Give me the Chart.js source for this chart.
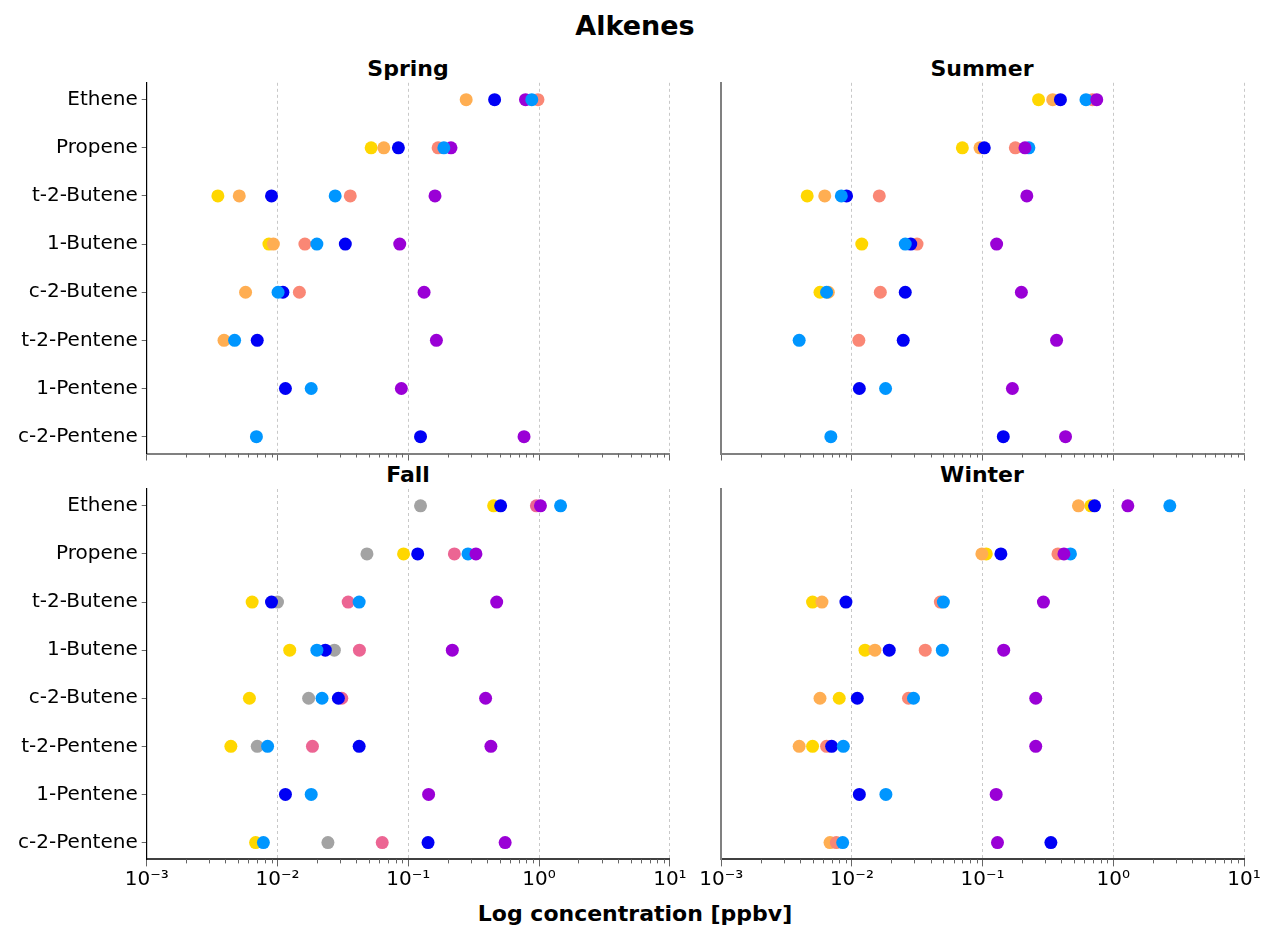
<!DOCTYPE html>
<html>
<head>
<style>
  html, body { margin: 0; width: 1262px; height: 926px; background: #fff; overflow: hidden; font-family: 'DejaVu Sans', sans-serif; }
  .txt { position: absolute; font-weight: bold; color: #000; transform: translate(-50%, -50%); white-space: nowrap; }
  canvas { position: absolute; }
</style>
<script src="https://cdn.jsdelivr.net/npm/chart.js"></script>
</head>
<body>
<div class="txt" style="left:635px;top:25px;font-size:27px">Alkenes</div>
<div class="txt" style="left:408px;top:68px;font-size:22px">Spring</div>
<div class="txt" style="left:982px;top:68px;font-size:22px">Summer</div>
<div class="txt" style="left:408px;top:474px;font-size:22px">Fall</div>
<div class="txt" style="left:982px;top:474px;font-size:22px">Winter</div>
<div class="txt" style="left:635px;top:913px;font-size:22px">Log concentration [ppbv]</div>

<canvas id="spring" width="700" height="392" style="left:0;top:72px"></canvas>
<canvas id="summer" width="562" height="392" style="left:700px;top:72px"></canvas>
<canvas id="fall" width="700" height="422" style="left:0;top:478px"></canvas>
<canvas id="winter" width="562" height="422" style="left:700px;top:478px"></canvas>

<script>
const compounds = ['Ethene', 'Propene', 't-2-Butene', '1-Butene', 'c-2-Butene', 't-2-Pentene', '1-Pentene', 'c-2-Pentene'];
const xTickValues = [0.001, 0.01, 0.1, 1, 10];
const xTickLabels = ['10⁻³', '10⁻²', '10⁻¹', '10⁰', '10¹'];

// values in ppbv, one per compound (null = not measured)
const springGold      = [null, 0.052, 0.0035, 0.0086, null, null, null, null];
const springOrange    = [0.277, 0.065, 0.0051, 0.0093, 0.0057, 0.0039, null, null];
const springSalmon    = [0.98, 0.169, 0.036, 0.0162, 0.0147, null, null, null];
const springBlue      = [0.457, 0.084, 0.0090, 0.033, 0.011, 0.0070, 0.0115, 0.124];
const springLightBlue = [0.879, 0.187, 0.0276, 0.020, 0.0101, 0.0047, 0.0181, 0.0069];
const springPurple    = [0.787, 0.212, 0.160, 0.086, 0.132, 0.164, 0.0885, 0.767];

const summerGold      = [0.268, 0.070, 0.00455, 0.0119, 0.0057, null, null, null];
const summerOrange    = [0.344, 0.0955, 0.0062, null, 0.0066, null, null, null];
const summerSalmon    = [0.693, 0.178, 0.0162, 0.0315, 0.0165, 0.0113, null, null];
const summerBlue      = [0.394, 0.103, 0.0091, 0.0282, 0.0256, 0.0247, 0.0114, 0.144];
const summerLightBlue = [0.618, 0.226, 0.0083, 0.0256, 0.0064, 0.00395, 0.0181, 0.0069];
const summerPurple    = [0.747, 0.211, 0.218, 0.128, 0.198, 0.368, 0.169, 0.431];

const fallGray        = [0.124, 0.0483, 0.0100, 0.0272, 0.0173, 0.0070, null, 0.0243];
const fallGold        = [0.449, 0.092, 0.0064, 0.0124, 0.0061, 0.0044, null, 0.0068];
const fallPink        = [0.953, 0.225, 0.0347, 0.0423, 0.031, 0.0185, null, 0.0632];
const fallBlue        = [0.508, 0.118, 0.0090, 0.0232, 0.0292, 0.0421, 0.0115, 0.1416];
const fallLightBlue   = [1.459, 0.286, 0.0421, 0.020, 0.0219, 0.0084, 0.0181, 0.0078];
const fallPurple      = [1.024, 0.329, 0.474, 0.217, 0.390, 0.428, 0.143, 0.550];

const winterGold      = [0.673, 0.1067, 0.0050, 0.0126, 0.0080, 0.0050, null, null];
const winterOrange    = [0.541, 0.0987, 0.0059, 0.0150, 0.0057, 0.00395, null, 0.0068];
const winterSalmon    = [null, 0.377, 0.0475, 0.0364, 0.0271, 0.0064, null, 0.0076];
const winterBlue      = [0.719, 0.138, 0.0090, 0.0193, 0.0110, 0.0070, 0.0114, 0.333];
const winterLightBlue = [2.706, 0.470, 0.0501, 0.0492, 0.0296, 0.0086, 0.0182, 0.0085];
const winterPurple    = [1.292, 0.419, 0.292, 0.145, 0.255, 0.255, 0.127, 0.130];

const colors = {
  gold: '#FFD700', orange: '#FFAE52', salmon: '#FA8775', pink: '#EC6593',
  gray: '#A3A3A3', blue: '#0000F5', lightBlue: '#0096FF', purple: '#9A00D6'
};

// minor tick positions of the log axis
const xMinor = [];
for (let e = -3; e < 1; e++) for (let m = 2; m < 10; m++) xMinor.push(m * Math.pow(10, e));

const minorTicks = {
  id: 'minorTicks',
  afterDraw(chart) {
    const sx = chart.scales.x, ctx = chart.ctx;
    ctx.save();
    ctx.strokeStyle = '#666';
    ctx.lineWidth = 1;
    for (const v of xMinor) {
      const px = Math.round(sx.getPixelForValue(v)) + 0.5;
      ctx.beginPath();
      ctx.moveTo(px, sx.top);
      ctx.lineTo(px, sx.top + 4);
      ctx.stroke();
    }
    ctx.restore();
  }
};

function makeSet(values, color) {
  const pts = [];
  values.forEach((v, i) => { if (v !== null) pts.push({x: v, y: i}); });
  return {
    data: pts,
    backgroundColor: color,
    borderWidth: 0,
    pointRadius: 6.5,
    pointHoverRadius: 6.5,
    clip: false
  };
}

// sets listed top-most first (Chart.js draws the first dataset last)
function makeChart(id, sets, opt) {
  new Chart(document.getElementById(id), {
    type: 'scatter',
    data: { datasets: sets },
    plugins: [minorTicks],
    options: {
      responsive: false,
      animation: false,
      layout: { padding: { top: opt.padTop, right: opt.padRight, left: 0, bottom: 0 } },
      plugins: { legend: { display: false }, tooltip: { enabled: false } },
      scales: {
        x: {
          type: 'logarithmic',
          min: 0.001,
          max: 10,
          afterBuildTicks: s => { s.ticks = xTickValues.map(v => ({ value: v })); },
          afterFit: s => { s.height = opt.xHeight; s.paddingLeft = 0; s.paddingRight = 0; },
          ticks: {
            display: opt.xLabels,
            autoSkip: false,
            maxRotation: 0,
            padding: 1,
            color: '#000',
            font: { family: 'DejaVu Sans', size: 20 },
            callback: v => xTickLabels[xTickValues.indexOf(v)] || ''
          },
          grid: {
            color: c => (c.index === 0 ? 'rgba(0,0,0,0)' : '#c8c8c8'),
            lineWidth: 1,
            tickLength: 7,
            tickColor: '#666',
            tickBorderDash: []
          },
          border: { color: opt.bottomColor, width: 2, dash: [3, 3] }
        },
        y: {
          type: 'linear',
          reverse: true,
          min: -0.35,
          max: 7.35,
          afterBuildTicks: s => { s.ticks = compounds.map((c, i) => ({ value: i })); },
          afterFit: s => { s.width = opt.yWidth; s.paddingTop = 0; s.paddingBottom = 0; },
          ticks: {
            display: opt.yLabels,
            padding: 4,
            color: '#000',
            font: { family: 'DejaVu Sans', size: 20 },
            callback: v => compounds[v]
          },
          grid: {
            drawOnChartArea: false,
            drawTicks: opt.yLabels,
            tickLength: 5,
            tickColor: '#666'
          },
          border: { color: opt.leftColor, width: opt.leftWidth }
        }
      }
    }
  });
}

makeChart('spring', [
  makeSet(springLightBlue, colors.lightBlue),
  makeSet(springPurple, colors.purple),
  makeSet(springBlue, colors.blue),
  makeSet(springSalmon, colors.salmon),
  makeSet(springOrange, colors.orange),
  makeSet(springGold, colors.gold)
], { padTop: 10.8, padRight: 30.1, xHeight: 10.5, yWidth: 146.7, xLabels: false, yLabels: true,
     bottomColor: '#808080', leftColor: '#000', leftWidth: 1.2 });

makeChart('summer', [
  makeSet(summerPurple, colors.purple),
  makeSet(summerLightBlue, colors.lightBlue),
  makeSet(summerBlue, colors.blue),
  makeSet(summerSalmon, colors.salmon),
  makeSet(summerOrange, colors.orange),
  makeSet(summerGold, colors.gold)
], { padTop: 10.8, padRight: 18, xHeight: 10.5, yWidth: 21.2, xLabels: false, yLabels: false,
     bottomColor: '#808080', leftColor: '#808080', leftWidth: 2 });

makeChart('fall', [
  makeSet(fallPurple, colors.purple),
  makeSet(fallLightBlue, colors.lightBlue),
  makeSet(fallBlue, colors.blue),
  makeSet(fallPink, colors.pink),
  makeSet(fallGold, colors.gold),
  makeSet(fallGray, colors.gray)
], { padTop: 11, padRight: 30.1, xHeight: 40.6, yWidth: 146.7, xLabels: true, yLabels: true,
     bottomColor: '#404040', leftColor: '#000', leftWidth: 1.2 });

makeChart('winter', [
  makeSet(winterPurple, colors.purple),
  makeSet(winterLightBlue, colors.lightBlue),
  makeSet(winterBlue, colors.blue),
  makeSet(winterSalmon, colors.salmon),
  makeSet(winterOrange, colors.orange),
  makeSet(winterGold, colors.gold)
], { padTop: 11, padRight: 18, xHeight: 40.6, yWidth: 21.2, xLabels: true, yLabels: false,
     bottomColor: '#404040', leftColor: '#808080', leftWidth: 2 });
</script>
</body>
</html>
